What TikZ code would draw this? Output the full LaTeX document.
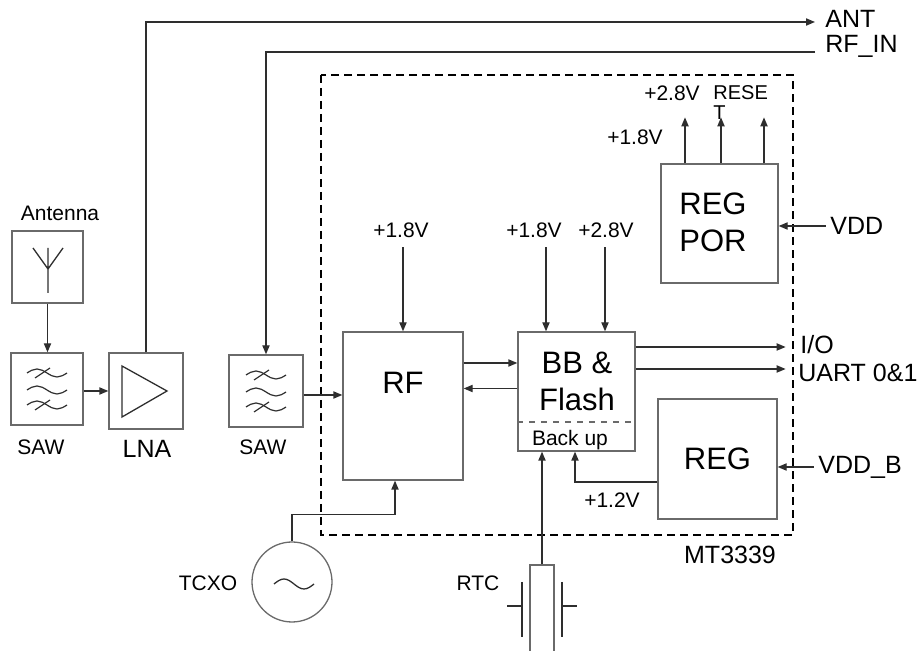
\documentclass[tikz,border=0pt]{standalone}
\usepackage{fontspec}
\setmainfont{Liberation Sans}
\usetikzlibrary{arrows.meta}

\definecolor{boxgray}{HTML}{6A6A6A}
\definecolor{wiregray}{HTML}{2E2E2E}

\tikzset{
    pics/sawwaves/.style={code={
        \foreach \dy in {-16,1,16}
            \draw[wiregray, line width=0.6pt] (-20,\dy) sin (-10,\dy-4) cos (0,\dy) sin (10,\dy+4) cos (20,\dy);
        \draw[wiregray, line width=0.6pt] (-12,-11) -- (3,-21) (-12,21) -- (3,11);
    }}
}

\begin{document}
\begin{tikzpicture}[x=0.5pt, y=-0.5pt,
    box/.style={draw=boxgray, line width=0.65pt, inner sep=0pt},
    wire/.style={draw=wiregray, line width=0.65pt},
    tip/.style={-{Triangle[length=4.5pt,width=3.6pt]}},
    small/.style={font=\fontsize{10.5}{12}\selectfont},
    mid/.style={font=\fontsize{12.5}{14}\selectfont},
    big/.style={font=\fontsize{15.5}{18.5}\selectfont, align=center}]
    \useasboundingbox (0,0) rectangle (922,651);

    % chip outline
    \draw[line width=1pt, dash pattern=on 4pt off 2.5pt] (321,75) rectangle (793,535);
    \node[mid] (mt) at (730,555) {MT3339};

    % antenna, filters, LNA
    \node[small] (antlbl) at (60,213) {Antenna};
    \node[box, minimum width=35.5pt, minimum height=36pt] (ant) at (47.5,267) {};
    \draw[wire] (48,248) -- (48,293) (33,248) -- (48,269) -- (63,248);
    \node[box, minimum width=36pt, minimum height=36pt] (saw1) at (47,389) {};
    \pic at (saw1) {sawwaves};
    \node[small] (saw1lbl) at (41,447) {SAW};
    \node[box, minimum width=37pt, minimum height=38pt] (lna) at (146,391) {};
    \draw[wire] (122,366) -- (122,417) -- (167,391) -- cycle;
    \node[mid] (lnalbl) at (147,449) {LNA};
    \node[box, minimum width=37pt, minimum height=36pt] (saw2) at (266,391) {};
    \pic at (saw2) {sawwaves};
    \node[small] (saw2lbl) at (263,447) {SAW};

    % blocks inside the chip
    \node[box, minimum width=60pt, minimum height=74pt] (rf) at (403,406) {};
    \node[big] (rftxt) at (403,383) {RF};
    \node[box, minimum width=58.5pt, minimum height=59.5pt] (bb) at (576.5,391.5) {};
    \node[big] (bbtxt) at (577,381) {BB \&\\Flash};
    \draw[boxgray, line width=0.6pt, dashed] ([yshift=-15.25pt]bb.west) -- ([yshift=-15.25pt]bb.east);
    \node[small] (backup) at (570,440) {Back up};
    \node[box, minimum width=58.5pt, minimum height=59.5pt] (regpor) at (719.5,223.5) {};
    \node[big] (regportxt) at (713,222) {REG\\POR};
    \node[box, big, minimum width=59.5pt, minimum height=60pt] (reg) at (717.5,459) {REG};

    % clocks
    \node[box, circle, minimum size=40pt] (tcxo) at (292,582) {};
    \draw[wire] (274,584) sin (284,579) cos (294,584) sin (304,589) cos (314,584);
    \node[small] (tcxolbl) at (208,583) {TCXO};
    \node[box, minimum width=12pt, minimum height=50pt] (rtc) at (542,615) {};
    \draw[wire] (522,582) -- (522,637) (507,606) -- (522,606)
                (562,582) -- (562,637) (562,606) -- (577,606);
    \node[small] (rtclbl) at (478,583) {RTC};

    % supply and signal labels
    \node[small] (rfv) at (401,230) {+1.8V};
    \node[small] (bbv1) at (534,230) {+1.8V};
    \node[small] (bbv2) at (606,230) {+2.8V};
    \node[small] (porv1) at (635,137) {+1.8V};
    \node[small] (porv2) at (672,93) {+2.8V};
    \node[font=\fontsize{10}{10}\selectfont, align=left, anchor=west, inner sep=0pt] (rst) at (713,103) {RESE\\T};
    \node[small] (v12) at (612,500) {+1.2V};
    \node[mid, anchor=west, inner sep=0pt] (antout) at (825,19) {ANT};
    \node[mid, anchor=west, inner sep=0pt] (rfin) at (825,46) {RF\_IN};
    \node[mid, anchor=west, inner sep=0pt] (io) at (800,345) {I/O};
    \node[mid, anchor=west, inner sep=0pt] (uart) at (798,373) {UART 0\&1};
    \node[mid, anchor=west, inner sep=0pt] (vdd) at (830,226) {VDD};
    \node[mid, anchor=west, inner sep=0pt] (vddb) at (818,467) {VDD\_B};
    \coordinate (antend) at (815,22);
    \coordinate (rfinend) at (815,52);

    % connections
    \draw[wire, tip] (ant.south) -- (ant.south |- saw1.north);
    \draw[wire, tip] (saw1.east |- lna.west) -- (lna.west);
    \draw[wire, tip] (lna.north) |- (antend);
    \draw[wire, tip] (rfinend) -| (saw2.north);
    \draw[wire, tip] ([yshift=-2pt]saw2.east) -- ([yshift=-2pt]saw2.east -| rf.west);
    \draw[wire, tip] ([yshift=21.5pt]rf.east) -- ([yshift=21.5pt]rf.east -| bb.west);
    \draw[wire, tip] ([yshift=1.5pt]bb.west) -- ([yshift=1.5pt]bb.west -| rf.east);
    \draw[wire, tip] (rf.north) ++(0,-84) -- (rf.north);
    \draw[wire, tip] ([xshift=-15.25pt]bb.north) ++(0,-84) -- ([xshift=-15.25pt]bb.north);
    \draw[wire, tip] ([xshift=14.25pt]bb.north) ++(0,-84) -- ([xshift=14.25pt]bb.north);
    \draw[wire, tip] ([yshift=22.25pt]bb.east) -- ++(150,0);
    \draw[wire, tip] ([yshift=11.25pt]bb.east) -- ++(150,0);
    \foreach \dx in {-17.25pt, 0.75pt, 22.25pt}
        \draw[wire, tip] ([xshift=\dx]regpor.north) -- ++(0,-46);
    \draw[wire, tip] ([yshift=-1.25pt]regpor.east) ++(47,0) -- ([yshift=-1.25pt]regpor.east);
    \draw[wire, tip] ([yshift=-4pt]reg.east) ++(36,0) -- ([yshift=-4pt]reg.east);
    \draw[wire, tip] ([yshift=-11.5pt]reg.west) -| ([xshift=-0.75pt]bb.south);
    \draw[wire, tip] (rtc.north) -- (rtc.north |- bb.south);
    \draw[wire, tip] (tcxo.north) -- ++(0,-27) -| ([xshift=-4pt]rf.south);
\end{tikzpicture}
\end{document}
